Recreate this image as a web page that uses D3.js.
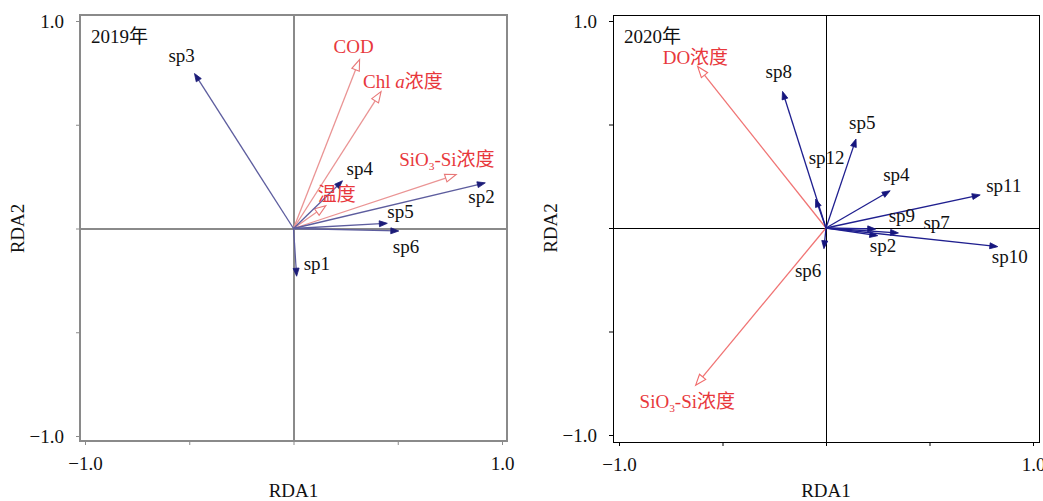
<!DOCTYPE html>
<html>
<head>
<meta charset="utf-8">
<script src="https://cdn.jsdelivr.net/npm/d3@7"></script>
<style>
  body { margin: 0; background: #fff; }
  svg text { font-family: "Liberation Serif", "Times New Roman", "Noto Sans CJK SC", serif; }
</style>
</head>
<body>
<div id="chart"></div>
<script>
// ---- data ----
const years = ["2019年", "2020年"];
const tickValues = [-1, -0.5, 0, 0.5, 1];
const tickLabels = ["\u22121.0", "", "", "", "1.0"];

const sp2019 = ["sp1", "sp2", "sp3", "sp4", "sp5", "sp6"];
const sp2019X = [0.015, 0.92, -0.475, 0.235, 0.45, 0.505];
const sp2019Y = [-0.23, 0.22, 0.747, 0.23, 0.025, -0.012];

const env2019 = ["COD", "Chl a浓度", "SiO3-Si浓度", "温度"];
const env2019X = [0.317, 0.42, 0.78, 0.155];
const env2019Y = [0.814, 0.66, 0.26, 0.11];

const sp2020 = ["sp2", "sp4", "sp5", "sp6", "sp7", "sp8", "sp9", "sp10", "sp11", "sp12"];
const sp2020X = [0.25, 0.31, 0.145, -0.01, 0.35, -0.21, 0.24, 0.83, 0.745, -0.05];
const sp2020Y = [-0.037, 0.18, 0.43, -0.1, -0.024, 0.66, -0.005, -0.09, 0.16, 0.14];

const env2020 = ["DO浓度", "SiO3-Si浓度"];
const env2020X = [-0.62, -0.63];
const env2020Y = [0.78, -0.76];

// ---- label nudges (px, from arrow head) ----
const spOff2019 = [[7, -6], [-17, 20], [-26, -11], [4, -6], [0, -5], [-6, 22]];
const envOff2019 = [[-26, -7], [-18, -4], [-57, -9], [-8, -5]];
const spOff2020 = [[-8, 16], [-7, -10], [-7, -10], [-29, 28], [25, -4], [-17, -13], [13, -7], [-6, 16], [6, -3], [-7, -35]];
const envOff2020 = [[-35, -3], [-56, 23]];

const W = 1043, H = 501, FS = 19;

const svg = d3.select("#chart").append("svg")
    .attr("width", W)
    .attr("height", H);

const panels = [
    {
        title: years[0], x0: 85, x1: 502, y0: 436, y1: 21, pad: 5, pady: [6, 5],
        frame: "#8a8a8a", frameW: 2, spLine: "#5d5d9e", spHead: "#1c1c78", envLine: "#ea9494", envHead: "#e87878",
        sp: sp2019, spX: sp2019X, spY: sp2019Y, spOff: spOff2019,
        env: env2019, envX: env2019X, envY: env2019Y, envOff: envOff2019
    },
    {
        title: years[1], x0: 619, x1: 1033, y0: 435, y1: 21, pad: 6, pady: [6, 7],
        frame: "#000", frameW: 1, spLine: "#1f1f8f", spHead: "#16167e", envLine: "#f07474", envHead: "#f06a6a",
        sp: sp2020, spX: sp2020X, spY: sp2020Y, spOff: spOff2020,
        env: env2020, envX: env2020X, envY: env2020Y, envOff: envOff2020
    }
];

//Writes a label, turning "SiO3" into a subscript and the "a" of Chl a into italics
function writeLabel(g, label, x, y, colour) {
    let text = g.append("text")
        .attr("x", x)
        .attr("y", y)
        .attr("font-size", FS + "px")
        .attr("fill", colour);
    if (label.startsWith("SiO3")) {
        text.append("tspan").text("SiO");
        text.append("tspan").attr("font-size", (FS * 0.6) + "px").attr("dy", 4).text("3");
        text.append("tspan").attr("dy", -4).text(label.slice(4));
    } else if (label.startsWith("Chl a")) {
        text.append("tspan").text("Chl ");
        text.append("tspan").attr("font-style", "italic").text("a");
        text.append("tspan").text(label.slice(5));
    } else {
        text.text(label);
    }
}

//Draws one arrow from the origin to (px,py); open heads for the environment factors
function drawArrow(g, ox, oy, px, py, lineCol, headCol, open) {
    let ang = Math.atan2(py - oy, px - ox);
    let len = open ? 11 : 8;
    let half = open ? 4 : 3;
    let bx = px - len * Math.cos(ang), by = py - len * Math.sin(ang);
    let nx = -Math.sin(ang), ny = Math.cos(ang);

    g.append("line")
        .attr("x1", ox).attr("y1", oy)
        .attr("x2", open ? bx : px - 2 * Math.cos(ang))
        .attr("y2", open ? by : py - 2 * Math.sin(ang))
        .attr("stroke", lineCol)
        .attr("stroke-width", 1.3);

    let pts = [[px, py], [bx + nx * half, by + ny * half], [bx - nx * half, by - ny * half]];
    g.append("path")
        .attr("d", "M" + pts.map(p => p.join(",")).join("L") + "Z")
        .attr("fill", open ? "#fff" : headCol)
        .attr("stroke", headCol)
        .attr("stroke-width", open ? 1.1 : 0.8)
        .attr("stroke-linejoin", "miter");
}

panels.forEach((p, pi) => {
    const x = d3.scaleLinear().domain([-1, 1]).range([p.x0, p.x1]);
    const y = d3.scaleLinear().domain([-1, 1]).range([p.y0, p.y1]);
    const left = p.x0 - p.pad, right = p.x1 + p.pad;
    const top = p.y1 - p.pady[0], bottom = p.y0 + p.pady[1];
    const g = svg.append("g");

    //Frame of the plot
    g.append("rect")
        .attr("x", left).attr("y", top)
        .attr("width", right - left).attr("height", bottom - top)
        .attr("fill", "none")
        .attr("stroke", p.frame)
        .attr("stroke-width", p.frameW)
        .attr("shape-rendering", "crispEdges");

    //Zero lines
    g.append("line").attr("x1", left).attr("x2", right).attr("y1", y(0)).attr("y2", y(0))
        .attr("stroke", p.frame).attr("stroke-width", p.frameW).attr("shape-rendering", "crispEdges");
    g.append("line").attr("x1", x(0)).attr("x2", x(0)).attr("y1", top).attr("y2", bottom)
        .attr("stroke", p.frame).attr("stroke-width", p.frameW).attr("shape-rendering", "crispEdges");

    //Axes (bottom and left), ticks outward
    const xAxis = d3.axisBottom(x).tickValues(tickValues).tickSize(4).tickPadding(12)
        .tickFormat((d, i) => tickLabels[i]);
    const yAxis = d3.axisLeft(y).tickValues(tickValues).tickSize(4).tickPadding(12)
        .tickFormat((d, i) => tickLabels[i]);

    const gx = g.append("g").attr("transform", "translate(0," + bottom + ")").call(xAxis);
    const gy = g.append("g").attr("transform", "translate(" + left + ",0)").call(yAxis);
    [gx, gy].forEach(a => {
        a.select(".domain").remove();
        a.selectAll(".tick line").attr("stroke", p.frame).attr("stroke-width", 1);
        a.selectAll(".tick text")
            .attr("font-size", FS + "px")
            .attr("font-family", "Liberation Serif, serif")
            .attr("fill", "#111");
    });

    //Axis titles
    g.append("text")
        .attr("x", x(0)).attr("y", 497)
        .attr("text-anchor", "middle")
        .attr("font-size", FS + "px")
        .attr("fill", "#111")
        .text("RDA1");
    g.append("text")
        .attr("transform", "translate(" + (left - 56) + "," + y(0) + ") rotate(-90)")
        .attr("text-anchor", "middle")
        .attr("font-size", FS + "px")
        .attr("fill", "#111")
        .text("RDA2");

    //Panel year
    g.append("text")
        .attr("x", left + 11).attr("y", 43)
        .attr("font-size", FS + "px")
        .attr("fill", "#111")
        .text(p.title);

    //Environment arrows then species arrows
    p.env.forEach((name, i) => {
        drawArrow(g, x(0), y(0), x(p.envX[i]), y(p.envY[i]), p.envLine, p.envHead, true);
    });
    p.sp.forEach((name, i) => {
        drawArrow(g, x(0), y(0), x(p.spX[i]), y(p.spY[i]), p.spLine, p.spHead, false);
    });

    //Labels
    p.env.forEach((name, i) => {
        writeLabel(g, name, x(p.envX[i]) + p.envOff[i][0], y(p.envY[i]) + p.envOff[i][1], "#e8383c");
    });
    p.sp.forEach((name, i) => {
        writeLabel(g, name, x(p.spX[i]) + p.spOff[i][0], y(p.spY[i]) + p.spOff[i][1], "#111");
    });
});
</script>
</body>
</html>
